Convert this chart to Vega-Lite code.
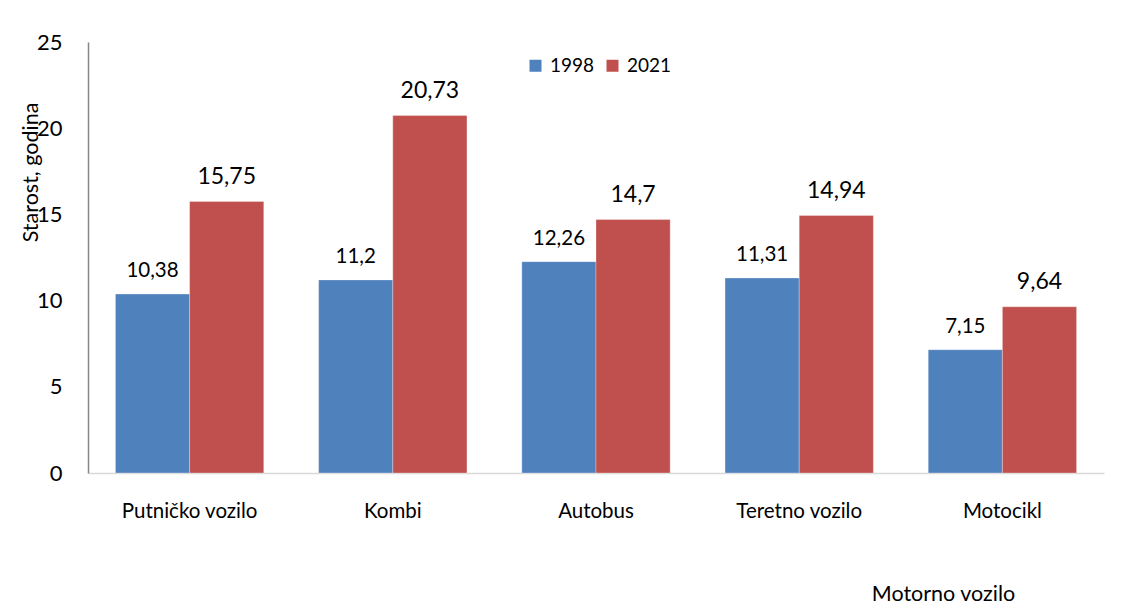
{
  "$schema": "https://vega.github.io/schema/vega-lite/v6.json",
  "autosize": "none",
  "width": 1016,
  "height": 431,
  "padding": {"left": 88, "top": 42, "right": 17, "bottom": 132},
  "background": "white",
  "config": {
    "font": "Lato",
    "view": {"stroke": null},
    "locale": {"number": {"decimal": ",", "thousands": ".", "grouping": [3], "currency": ["", ""]}}
  },
  "data": {
    "values": [
      {"vozilo": "Putničko vozilo", "godina": "1998", "starost": 10.38},
      {"vozilo": "Putničko vozilo", "godina": "2021", "starost": 15.75},
      {"vozilo": "Kombi", "godina": "1998", "starost": 11.2},
      {"vozilo": "Kombi", "godina": "2021", "starost": 20.73},
      {"vozilo": "Autobus", "godina": "1998", "starost": 12.26},
      {"vozilo": "Autobus", "godina": "2021", "starost": 14.7},
      {"vozilo": "Teretno vozilo", "godina": "1998", "starost": 11.31},
      {"vozilo": "Teretno vozilo", "godina": "2021", "starost": 14.94},
      {"vozilo": "Motocikl", "godina": "1998", "starost": 7.15},
      {"vozilo": "Motocikl", "godina": "2021", "starost": 9.64}
    ]
  },
  "encoding": {
    "x": {
      "field": "vozilo", "type": "nominal", "sort": null,
      "scale": {"paddingInner": 0.27, "paddingOuter": 0.135},
      "axis": {
        "title": "Motorno vozilo", "titleX": 855, "titleY": 127, "titleFontSize": 21.5, "titleFontWeight": "normal",
        "titleBaseline": "alphabetic", "titleAlign": "center", "titleColor": "#000000",
        "labelAngle": 0, "labelFontSize": 20.5, "labelColor": "#000000", "labelPadding": 44, "labelBaseline": "alphabetic",
        "ticks": false, "tickSize": 0, "domainColor": "#d9d9d9", "domainWidth": 1.5
      }
    },
    "xOffset": {"field": "godina", "type": "nominal"},
    "y": {
      "field": "starost", "type": "quantitative",
      "scale": {"domain": [0, 25]},
      "axis": {
        "title": "Starost, godina", "titleX": -57, "titleY": 130, "titleAngle": -90, "titleFontSize": 21.5,
        "titleFontWeight": "normal", "titleBaseline": "middle", "titleAlign": "center", "titleColor": "#000000",
        "values": [0, 5, 10, 15, 20, 25], "labelFontSize": 22, "labelColor": "#000000", "labelPadding": 26,
        "ticks": false, "tickSize": 0, "grid": false, "domainColor": "#868686", "domainWidth": 1.5
      }
    }
  },
  "layer": [
    {
      "mark": {"type": "bar", "stroke": "#ffffff", "strokeWidth": 0.5, "strokeOpacity": 0.6},
      "encoding": {
        "color": {
          "field": "godina", "type": "nominal",
          "scale": {"domain": ["1998", "2021"], "range": ["#4f81bd", "#c0504d"]},
          "legend": {
            "title": null, "orient": "none", "legendX": 438, "legendY": 14, "direction": "horizontal",
            "padding": 0, "symbolType": "square", "symbolSize": 144, "symbolStrokeWidth": 0, "labelFontSize": 19,
            "labelColor": "#000000", "labelOffset": 5, "columnPadding": 8
          }
        }
      }
    },
    {
      "transform": [{"filter": "datum.godina === '1998'"}],
      "mark": {"type": "text", "baseline": "alphabetic", "dy": -17, "color": "#000000", "fontSize": 20.5},
      "encoding": {
        "text": {"field": "starost", "type": "quantitative", "format": ".2~f"}
      }
    },
    {
      "transform": [{"filter": "datum.godina === '2021'"}],
      "mark": {"type": "text", "baseline": "alphabetic", "dy": -17.5, "color": "#000000", "fontSize": 23},
      "encoding": {
        "text": {"field": "starost", "type": "quantitative", "format": ".2~f"}
      }
    }
  ]
}
